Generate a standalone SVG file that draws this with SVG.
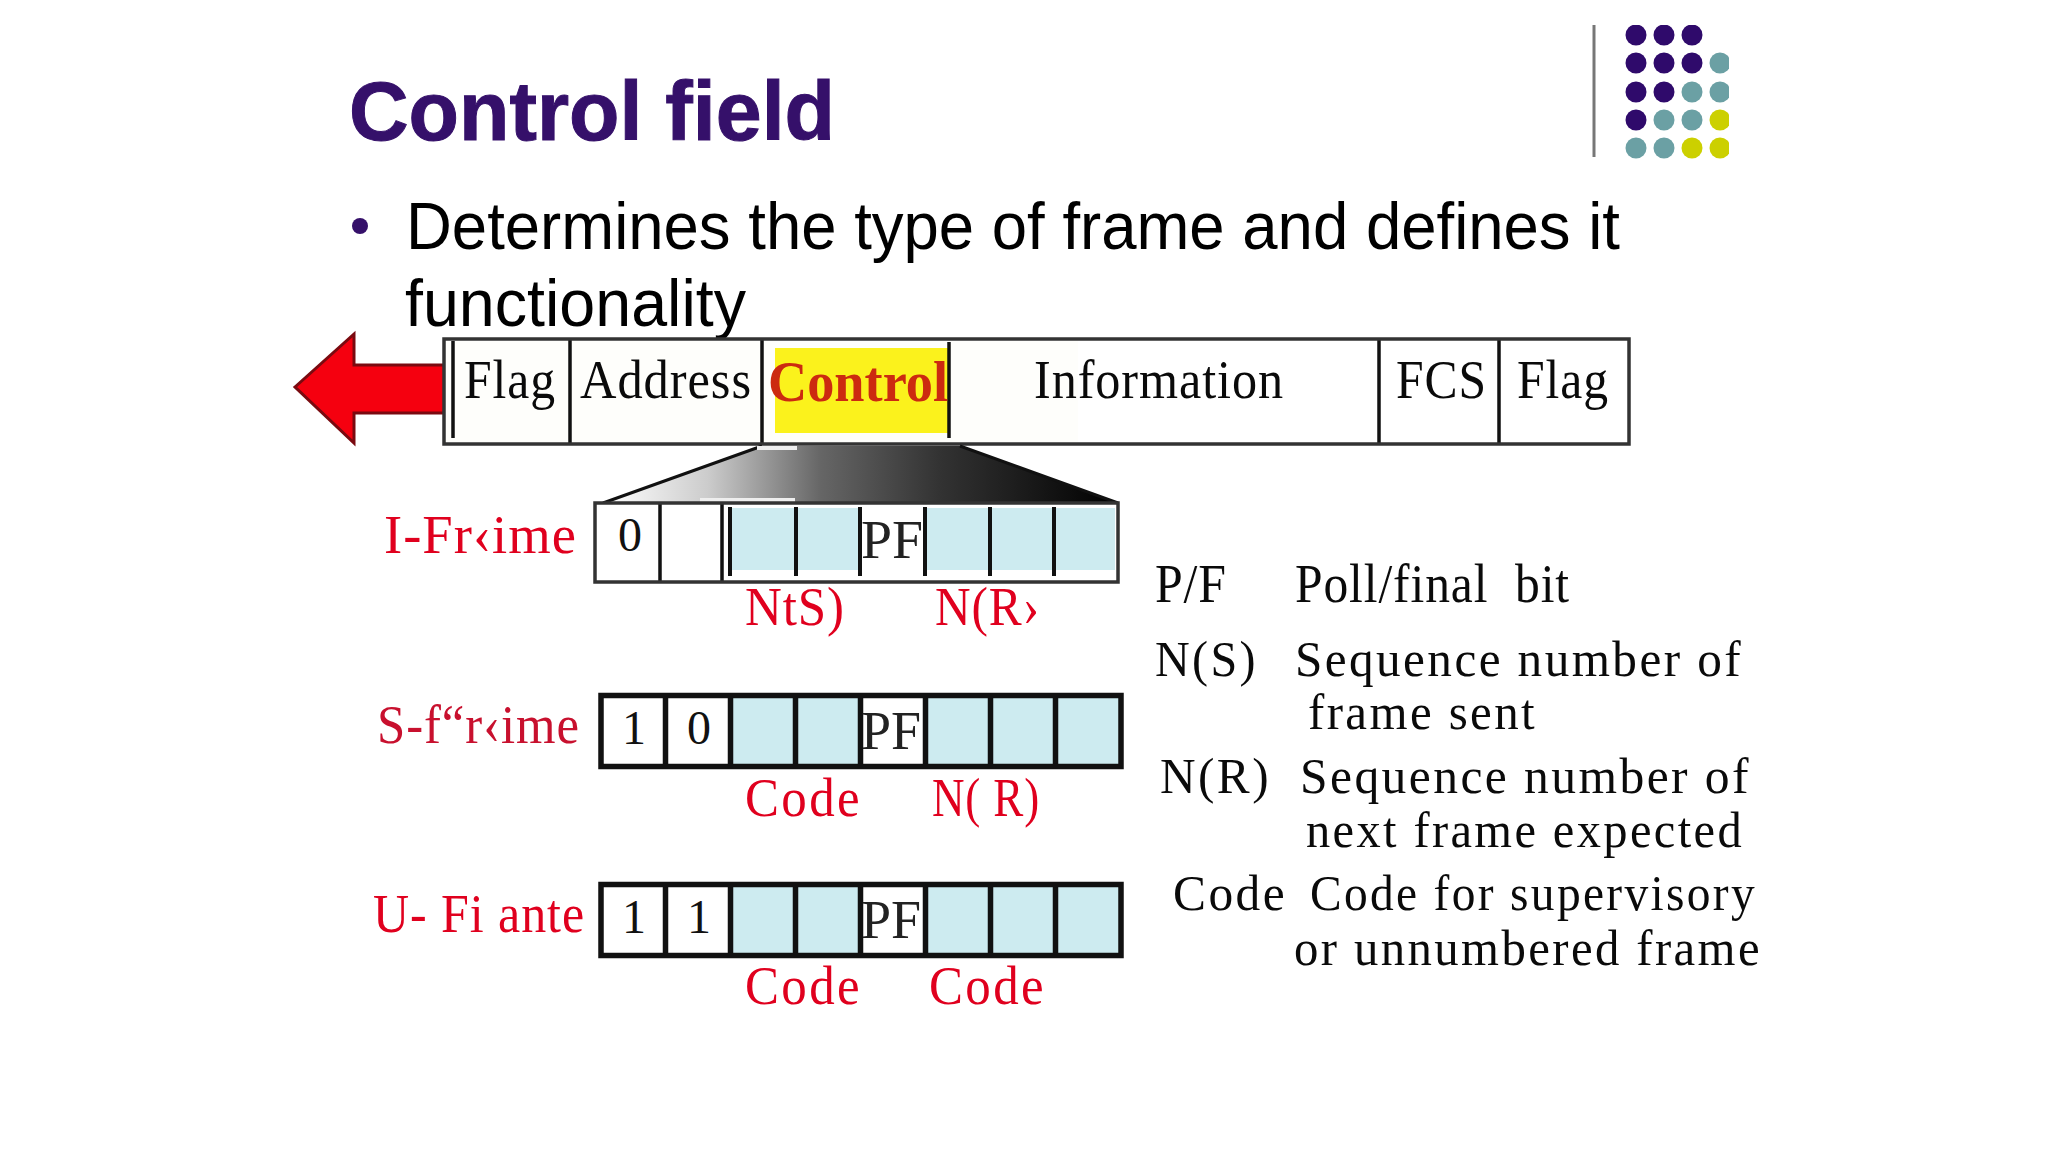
<svg xmlns="http://www.w3.org/2000/svg" width="2048" height="1152" viewBox="0 0 2048 1152">
<defs>
<linearGradient id="fade" gradientUnits="userSpaceOnUse" x1="605" x2="1118" y1="0" y2="0"><stop offset="0" stop-color="#fff"/><stop offset="0.2" stop-color="#ccc"/><stop offset="0.42" stop-color="#666"/><stop offset="0.65" stop-color="#333"/><stop offset="1" stop-color="#000"/></linearGradient>
<clipPath id="logoclip"><rect x="1585" y="25" width="144" height="135"/></clipPath>
</defs>
<style>
.t{font-family:"Liberation Serif",serif;fill:#0a0a0a}
.r{font-family:"Liberation Serif",serif;fill:#e0001e}
.k{font-size:54px;letter-spacing:1px}
.w{font-size:54px;letter-spacing:2.5px}
.g{font-size:51px;letter-spacing:2.5px}
.b{fill:none;stroke:#333;stroke-width:3.5}
.l{stroke:#111;stroke-width:3.5;fill:none}
.h{stroke:#111;stroke-width:5.5;fill:none}
.c{fill:#cdebf0}
.s{font-family:"Liberation Serif",serif;font-size:54px;fill:#222}
.d{font-family:"Liberation Serif",serif;font-size:48px;fill:#111}
.d1{fill:#2f0a6b}.d2{fill:#6ba0a4}.d3{fill:#ccd000}
</style>
<rect width="2048" height="1152" fill="#fff"/>
<text x="349" y="140" font-family="Liberation Sans,sans-serif" font-size="84" font-weight="700" fill="#35106a" stroke="#35106a" stroke-width="1" textLength="486" lengthAdjust="spacingAndGlyphs">Control field</text>
<circle cx="360" cy="226" r="8" fill="#35106a"/>
<text x="406" y="249" font-family="Liberation Sans,sans-serif" font-size="66" fill="#000" textLength="1214" lengthAdjust="spacingAndGlyphs">Determines the type of frame and defines it</text>
<text x="405" y="326" font-family="Liberation Sans,sans-serif" font-size="66" fill="#000" textLength="341" lengthAdjust="spacingAndGlyphs">functionality</text>
<g id="logo">
<line x1="1594" y1="25" x2="1594" y2="157" stroke="#777" stroke-width="3"/>
<g clip-path="url(#logoclip)">
<g class="d1"><circle cx="1636" cy="35" r="10.5"/><circle cx="1664" cy="35" r="10.5"/><circle cx="1692" cy="35" r="10.5"/><circle cx="1636" cy="63" r="10.5"/><circle cx="1664" cy="63" r="10.5"/><circle cx="1692" cy="63" r="10.5"/><circle cx="1636" cy="92" r="10.5"/><circle cx="1664" cy="92" r="10.5"/><circle cx="1636" cy="120" r="10.5"/></g>
<g class="d2"><circle cx="1720" cy="63" r="10.5"/><circle cx="1692" cy="92" r="10.5"/><circle cx="1720" cy="92" r="10.5"/><circle cx="1664" cy="120" r="10.5"/><circle cx="1692" cy="120" r="10.5"/><circle cx="1636" cy="148" r="10.5"/><circle cx="1664" cy="148" r="10.5"/></g>
<g class="d3"><circle cx="1720" cy="120" r="10.5"/><circle cx="1692" cy="148" r="10.5"/><circle cx="1720" cy="148" r="10.5"/></g>
</g>
</g>
<g id="arrow"><polygon points="295,387 354,334 354,365 450,365 450,413 354,413 354,443" fill="#f5000f" stroke="#7a0a10" stroke-width="3"/></g>
<g id="frame">
<rect x="446" y="341" width="1181" height="101" fill="#fff"/>
<rect x="445" y="341" width="633" height="101" fill="#fefefb"/>
<rect x="775" y="348" width="173" height="85" fill="#fbf21c"/>
<line class="l" x1="453" y1="341" x2="453" y2="438"/><line class="l" x1="570" y1="339" x2="570" y2="444"/><line class="l" x1="762" y1="339" x2="762" y2="444"/><line class="l" x1="949" y1="342" x2="949" y2="438"/><line class="l" x1="1379" y1="339" x2="1379" y2="444"/><line class="l" x1="1499" y1="339" x2="1499" y2="444"/>
<rect x="444" y="339" width="1185" height="105" class="b"/>
<text class="t k" x="464" y="398" textLength="92" lengthAdjust="spacingAndGlyphs">Flag</text>
<text class="t k" x="580" y="398" textLength="172" lengthAdjust="spacingAndGlyphs">Address</text>
<text x="768" y="401" font-family="Liberation Serif,serif" font-size="56" font-weight="700" fill="#cc2a10" textLength="180" lengthAdjust="spacingAndGlyphs">Control</text>
<text class="t k" x="1034" y="398" textLength="250" lengthAdjust="spacingAndGlyphs">Information</text>
<text class="t k" x="1396" y="398" textLength="91" lengthAdjust="spacingAndGlyphs">FCS</text>
<text class="t k" x="1517" y="398" textLength="92" lengthAdjust="spacingAndGlyphs">Flag</text>
</g>
<g id="trapezoid"><polygon points="605,503 762,446 960,446 1118,503" fill="url(#fade)"/>
<path d="M603,503 762,446M960,446 1118,503" stroke="#111" stroke-width="3" fill="none"/>
<rect x="757" y="446" width="40" height="4" fill="#eee"/><rect x="700" y="498" width="95" height="4" fill="#eee"/></g>
<g id="iframe">
<rect x="595" y="503" width="523" height="79" fill="#fff"/>
<rect x="730" y="508" width="385" height="62" class="c"/>
<rect x="862" y="508" width="62" height="62" fill="#fff"/>
<path class="l" d="M660,503V582M722,503V582"/>
<path d="M730,507V576M796,507V576M860,507V576M925,507V576M990,507V576M1054,507V576" stroke="#111" stroke-width="4" fill="none"/>
<rect x="595" y="503" width="523" height="79" class="b"/>
<text class="d" x="630" y="551" text-anchor="middle">0</text>
<text class="s" x="861" y="558" textLength="62" lengthAdjust="spacingAndGlyphs">PF</text>
<text class="r k" x="384" y="553" textLength="193" lengthAdjust="spacingAndGlyphs">I-Fr‹ime</text>
<text class="r k" x="745" y="625" textLength="100" lengthAdjust="spacingAndGlyphs">NtS)</text>
<text class="r k" x="935" y="625" textLength="105" lengthAdjust="spacingAndGlyphs">N(R›</text>
</g>
<g id="sframe">
<rect x="601" y="695.500" width="520" height="71" fill="#fff"/>
<rect x="730" y="697" width="390" height="68" class="c"/><rect x="862" y="697" width="66" height="68" fill="#fff"/>
<path class="h" d="M665.500,695V767M730.500,695V767M795.500,695V767M860.500,695V767M925.500,695V767M990.500,695V767M1055.500,695V767"/>
<rect x="601" y="695.500" width="520" height="71" class="h"/>
<text class="d" x="634" y="744" text-anchor="middle">1</text>
<text class="d" x="699" y="744" text-anchor="middle">0</text>
<text class="s" x="861" y="749" textLength="60" lengthAdjust="spacingAndGlyphs">PF</text>
<text class="r k" x="377" y="743" textLength="203" style="fill:#c8102e" lengthAdjust="spacingAndGlyphs">S-f“r‹ime</text>
<text class="r w" x="745" y="816" textLength="117" lengthAdjust="spacingAndGlyphs">Code</text>
<text class="r k" x="932" y="816" textLength="108" lengthAdjust="spacingAndGlyphs">N( R)</text>
</g>
<g id="uframe">
<rect x="601" y="884.500" width="520" height="71" fill="#fff"/>
<rect x="730" y="886" width="390" height="68" class="c"/><rect x="862" y="886" width="66" height="68" fill="#fff"/>
<path class="h" d="M665.500,884V956M730.500,884V956M795.500,884V956M860.500,884V956M925.500,884V956M990.500,884V956M1055.500,884V956"/>
<rect x="601" y="884.500" width="520" height="71" class="h"/>
<text class="d" x="634" y="933" text-anchor="middle">1</text>
<text class="d" x="699" y="933" text-anchor="middle">1</text>
<text class="s" x="861" y="938" textLength="60" lengthAdjust="spacingAndGlyphs">PF</text>
<text class="r k" x="373" y="932" textLength="212" lengthAdjust="spacingAndGlyphs">U- Fi ante</text>
<text class="r w" x="745" y="1004" textLength="117" lengthAdjust="spacingAndGlyphs">Code</text>
<text class="r w" x="929" y="1004" textLength="117" lengthAdjust="spacingAndGlyphs">Code</text>
</g>
<g id="legend">
<text class="t k" x="1155" y="602" textLength="72" lengthAdjust="spacingAndGlyphs">P/F</text>
<text class="t k" x="1295" y="602" textLength="275" lengthAdjust="spacingAndGlyphs" style="white-space:pre">Poll/final  bit</text>
<text class="t g" x="1155" y="676" textLength="103" lengthAdjust="spacingAndGlyphs">N(S)</text>
<text class="t g" x="1295" y="676" textLength="448" lengthAdjust="spacingAndGlyphs">Sequence number of</text>
<text class="t g" x="1308" y="729" textLength="229" lengthAdjust="spacingAndGlyphs">frame sent</text>
<text class="t g" x="1160" y="793" textLength="111" lengthAdjust="spacingAndGlyphs">N(R)</text>
<text class="t g" x="1300" y="793" textLength="451" lengthAdjust="spacingAndGlyphs">Sequence number of</text>
<text class="t g" x="1306" y="847" textLength="438" lengthAdjust="spacingAndGlyphs">next frame expected</text>
<text class="t g" x="1173" y="910" textLength="114" lengthAdjust="spacingAndGlyphs">Code</text>
<text class="t g" x="1310" y="910" textLength="447" lengthAdjust="spacingAndGlyphs">Code for supervisory</text>
<text class="t g" x="1294" y="965" textLength="468" lengthAdjust="spacingAndGlyphs">or unnumbered frame</text>
</g>
</svg>
